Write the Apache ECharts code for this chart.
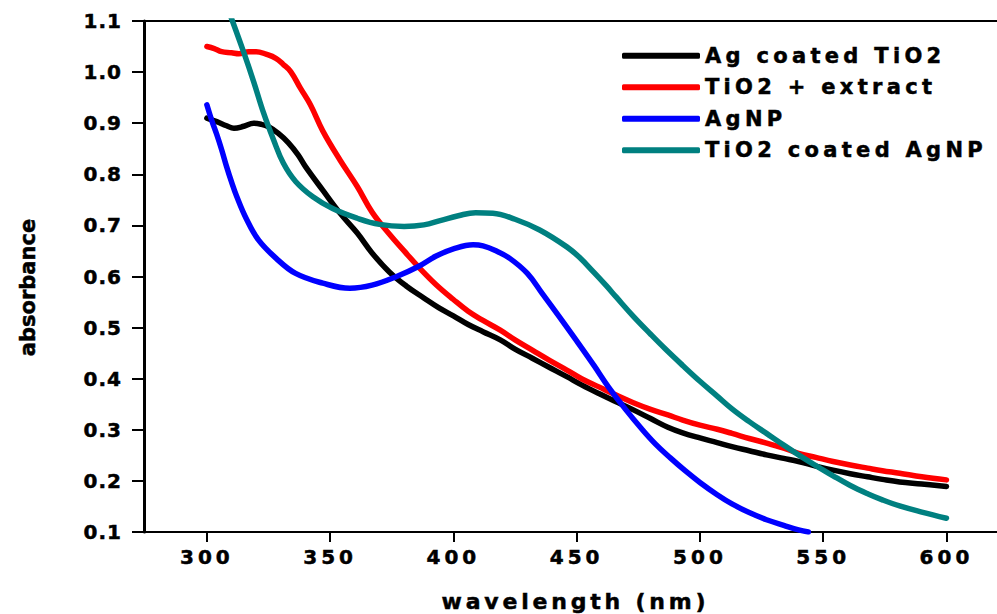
<!DOCTYPE html>
<html>
<head>
<meta charset="utf-8">
<script src="https://cdn.jsdelivr.net/npm/echarts@6/dist/echarts.min.js"></script>
<style>
html,body{margin:0;padding:0;background:#fff;}
#chart{width:997px;height:614px;}
</style>
</head>
<body>
<div id="chart"></div>
<script>
// ---- data (wavelength nm, absorbance) ----
const seriesNames = ['Ag coated TiO2', 'TiO2 + extract', 'AgNP', 'TiO2 coated AgNP'];
const seriesColors = ['#000000', '#ff0000', '#0000ff', '#008080'];

const agCoatedTiO2 = [[300,0.910],[304,0.903],[308,0.895],[311,0.890],[315,0.894],[319,0.900],[322,0.898],[325,0.893],[329,0.880],[333,0.862],[337,0.838],[340,0.815],[347,0.769],[354,0.724],[361,0.685],[367,0.646],[374,0.609],[381,0.581],[388,0.558],[394,0.539],[400,0.523],[406,0.506],[412,0.492],[419,0.476],[425,0.458],[432,0.440],[439,0.422],[446,0.404],[452,0.388],[459,0.371],[466,0.355],[473,0.339],[480,0.322],[487,0.305],[493,0.294],[500,0.284],[507,0.275],[513,0.267],[520,0.259],[527,0.251],[534,0.244],[540,0.238],[547,0.229],[554,0.221],[561,0.214],[568,0.208],[574,0.203],[581,0.198],[590,0.194],[600,0.189]];

const tio2Extract = [[300,1.050],[303,1.046],[306,1.040],[310,1.038],[313,1.036],[317,1.040],[320,1.040],[324,1.035],[328,1.027],[331,1.015],[334,1.001],[338,0.968],[342,0.936],[347,0.885],[354,0.828],[361,0.776],[367,0.726],[374,0.683],[380,0.650],[386,0.618],[393,0.584],[400,0.555],[406,0.532],[412,0.514],[419,0.495],[425,0.476],[432,0.456],[439,0.436],[446,0.417],[452,0.400],[459,0.384],[466,0.368],[473,0.353],[480,0.340],[487,0.329],[493,0.319],[500,0.309],[507,0.301],[513,0.293],[520,0.283],[527,0.274],[534,0.264],[540,0.254],[547,0.246],[554,0.238],[561,0.231],[568,0.225],[574,0.220],[581,0.215],[590,0.208],[600,0.202]];

const agNP = [[300,0.936],[302,0.905],[304,0.878],[306,0.848],[308,0.815],[310,0.785],[312,0.758],[316,0.713],[321,0.671],[328,0.636],[336,0.606],[347,0.587],[358,0.577],[367,0.583],[377,0.600],[386,0.620],[393,0.640],[400,0.654],[408,0.662],[412,0.660],[417,0.651],[423,0.635],[430,0.606],[436,0.567],[443,0.521],[450,0.474],[457,0.426],[463,0.383],[470,0.339],[476,0.304],[482,0.272],[488,0.245],[494,0.220],[500,0.197],[507,0.173],[513,0.155],[520,0.138],[527,0.124],[534,0.113],[540,0.104],[544,0.100]];

const tio2CoatedAgNP = [[300,1.240],[305,1.170],[310,1.105],[315,1.038],[319,0.981],[323,0.920],[327,0.868],[331,0.822],[336,0.786],[343,0.756],[351,0.733],[361,0.714],[370,0.702],[380,0.698],[388,0.701],[395,0.710],[402,0.719],[409,0.725],[416,0.724],[425,0.712],[435,0.691],[446,0.658],[451,0.638],[457,0.608],[462,0.582],[466,0.560],[473,0.522],[480,0.487],[486,0.458],[493,0.426],[500,0.395],[507,0.366],[513,0.341],[520,0.316],[527,0.293],[534,0.270],[540,0.251],[546,0.233],[554,0.210],[561,0.191],[568,0.175],[574,0.163],[581,0.151],[590,0.139],[600,0.127]];

const xTicks = [300, 350, 400, 450, 500, 550, 600];
const xName = 'wavelength (nm)';
const yName = 'absorbance';

const FONT = 'DejaVu Sans';
const allData = [agCoatedTiO2, tio2Extract, agNP, tio2CoatedAgNP];
const heavy = {fontFamily: FONT, fontWeight: 'bold', color: '#000', textBorderColor: '#000', textBorderWidth: 0.5};

const chart = echarts.init(document.getElementById('chart'), null, {renderer: 'svg'});

const option = {
  animation: false,
  backgroundColor: '#ffffff',
  grid: {left: 144, right: 0, top: 21, bottom: 82, containLabel: false, outerBoundsMode: 'none'},
  legend: {
    orient: 'vertical', left: 617, top: 40,
    itemWidth: 78, itemHeight: 6, itemGap: 10,
    icon: 'roundRect',
    data: seriesNames,
    textStyle: Object.assign({fontSize: 21}, heavy)
  },
  xAxis: [{
    type: 'value', min: 274.5, max: 620.5, position: 'bottom',
    axisLine: {onZero: false, lineStyle: {color: '#000', width: 2}},
    axisTick: {show: true, customValues: xTicks, length: 10, inside: false, lineStyle: {color: '#000', width: 2}},
    axisLabel: Object.assign({customValues: xTicks, margin: 15, fontSize: 20}, heavy),
    splitLine: {show: false},
    name: xName, nameLocation: 'middle', nameGap: 58,
    nameTextStyle: Object.assign({fontSize: 22, padding: [0, 0, 0, 10]}, heavy)
  }, {
    type: 'value', min: 274.5, max: 620.5, position: 'top',
    axisLine: {show: true, onZero: false, lineStyle: {color: '#000', width: 2}},
    axisTick: {show: false}, axisLabel: {show: false}, splitLine: {show: false}
  }],
  yAxis: {
    type: 'value', min: 0.1, max: 1.1, interval: 0.1,
    axisLine: {show: true, onZero: false, lineStyle: {color: '#000', width: 3}},
    axisTick: {show: true, length: 12, inside: false, lineStyle: {color: '#000', width: 2}},
    axisLabel: Object.assign({formatter: v => v.toFixed(1), margin: 22, fontSize: 20}, heavy),
    splitLine: {show: false},
    name: yName, nameLocation: 'middle', nameGap: 106, nameRotate: 90,
    nameTextStyle: Object.assign({fontSize: 21, padding: [0, 22, 0, 0]}, heavy)
  },
  series: seriesNames.map((n, i) => ({
    name: n, type: 'line', xAxisIndex: 0, data: allData[i],
    symbol: 'none', smooth: 0.4, clip: true,
    lineStyle: {color: seriesColors[i], width: 5.5, cap: 'round', join: 'round'},
    itemStyle: {color: seriesColors[i]}
  }))
};
chart.setOption(option);

function applySpacing() {
  document.querySelectorAll('#chart svg text').forEach(t => {
    const s = t.textContent;
    let ls = 0;
    if (seriesNames.indexOf(s) >= 0) ls = 4.3;
    else if (s === xName) ls = 3.8;
    else if (/^\d+$/.test(s)) ls = 4;
    else if (/^\d\.\d$/.test(s)) ls = 1;
    if (ls) t.setAttribute('letter-spacing', ls + 'px');
  });
}
chart.on('finished', applySpacing);
setTimeout(applySpacing, 50);
</script>
</body>
</html>
